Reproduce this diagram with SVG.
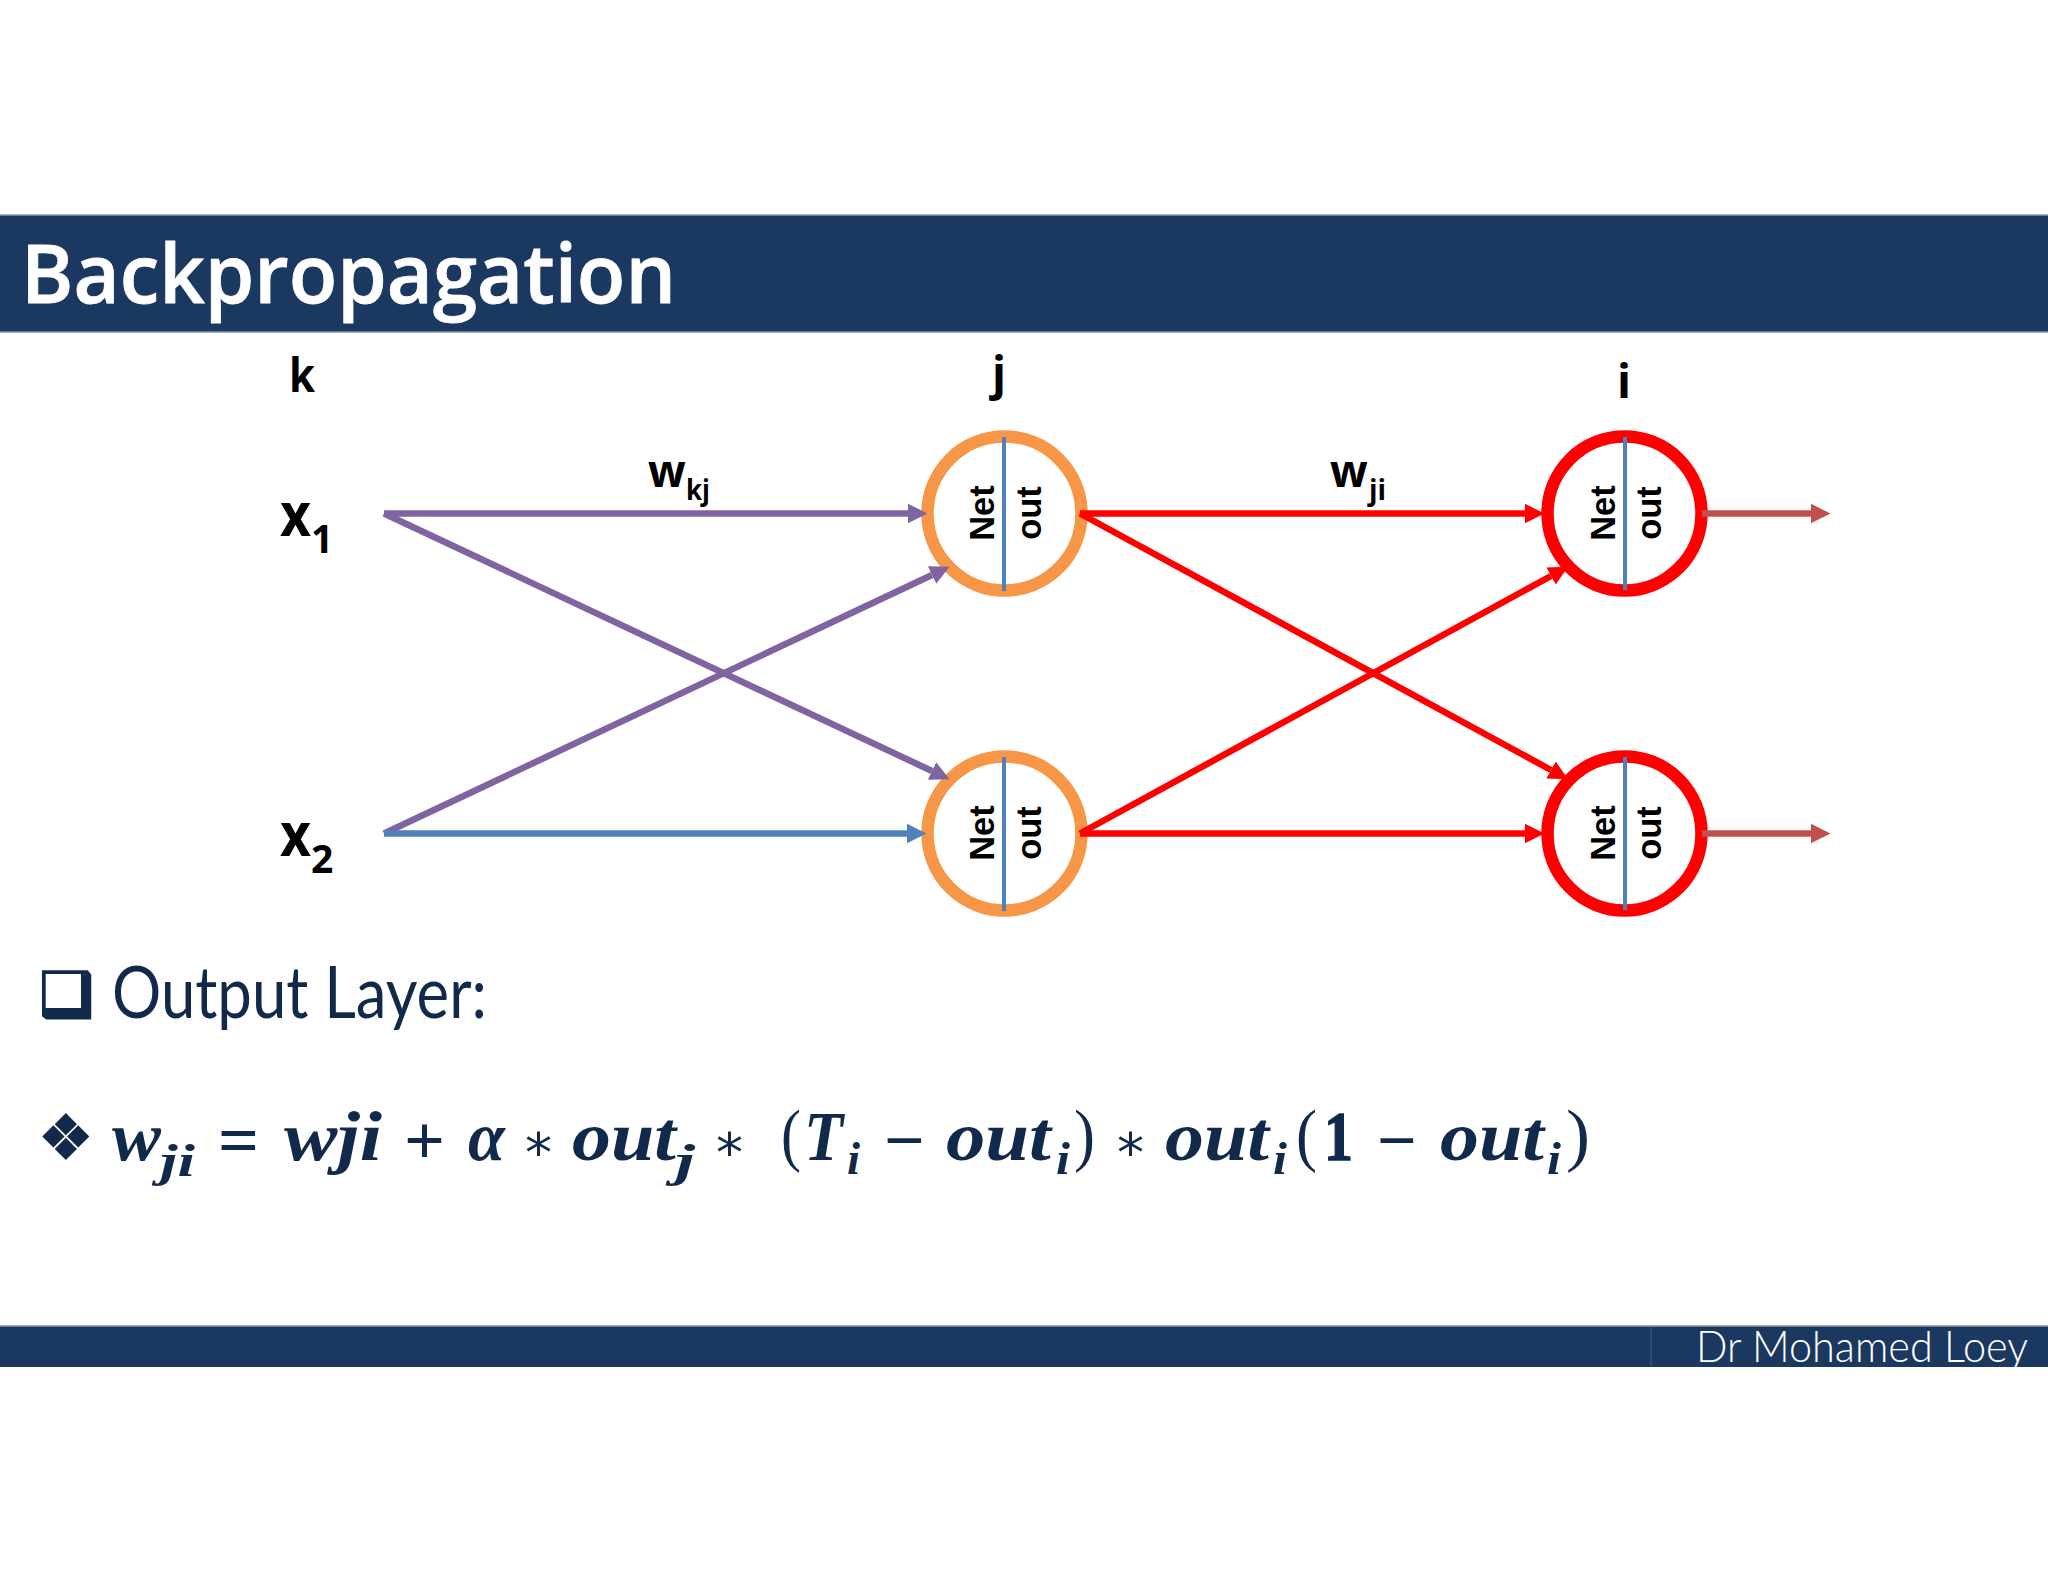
<svg xmlns="http://www.w3.org/2000/svg" width="2048" height="1582" viewBox="0 0 2048 1582">
<style>
.bar{fill:#1a3860}
.edge{stroke:#8496aa;stroke-width:1.5}
.lab{font-family:"Open Sans","Liberation Sans",sans-serif;font-weight:700;fill:#000}
.rot{font-family:"Liberation Sans",Arial,sans-serif;font-weight:700;font-size:34.5px;fill:#000;text-anchor:middle}
.ring{fill:#fff;stroke-width:12.5}
.hid{stroke:#f79646}.out{stroke:#ff0000}
.div{stroke:#4f81bd;stroke-width:4}
.c{fill:none;stroke-width:6.5}
.m{font-family:"Liberation Serif","Times New Roman",serif;font-weight:700;font-style:italic;font-size:70px;fill:#11294a}
.s{font-size:46px}
.u{font-style:normal}
.o{font-style:normal;font-weight:400}
.a{font-family:"DejaVu Sans",sans-serif;font-style:normal;font-weight:400;font-size:54px}
.fut{font-family:Lato,"Open Sans",sans-serif;fill:#11294a}
.dj{font-family:"DejaVu Sans",sans-serif;fill:#11294a;stroke:#11294a;stroke-width:1.2}
</style>
<defs>
<marker id="aP" markerWidth="3" markerHeight="3" refX="0" refY="1.5" orient="auto"><path d="M0,0L3,1.5L0,3z" fill="#8064a2"/></marker>
<marker id="aB" markerWidth="3" markerHeight="3" refX="0" refY="1.5" orient="auto"><path d="M0,0L3,1.5L0,3z" fill="#4f81bd"/></marker>
<marker id="aR" markerWidth="3" markerHeight="3" refX="0" refY="1.5" orient="auto"><path d="M0,0L3,1.5L0,3z" fill="#ff0000"/></marker>
<marker id="aD" markerWidth="3" markerHeight="3" refX="0" refY="1.5" orient="auto"><path d="M0,0L3,1.5L0,3z" fill="#c0504d"/></marker>
</defs>
<rect width="2048" height="1582" fill="#fff"/>
<g id="header">
<rect class="bar" x="0" y="215" width="2048" height="117"/>
<line class="edge" x1="0" y1="215" x2="2048" y2="215"/>
<line class="edge" x1="0" y1="332" x2="2048" y2="332"/>
<text x="21" y="303" font-family="Open Sans,sans-serif" font-weight="600" font-size="81" fill="#fff" stroke="#fff" stroke-width="0.8" textLength="655" lengthAdjust="spacingAndGlyphs">Backpropagation</text>
</g>
<g id="footer">
<rect class="bar" x="0" y="1326" width="2048" height="41"/>
<line class="edge" x1="0" y1="1326" x2="2048" y2="1326"/>
<line x1="1651" y1="1327" x2="1651" y2="1367" stroke="#2a4a72" stroke-width="2"/>
<text x="1696" y="1362" font-family="Lato,sans-serif" font-weight="300" font-size="43" fill="#fff" textLength="332" lengthAdjust="spacingAndGlyphs">Dr Mohamed Loey</text>
</g>
<g id="layer-labels">
<text class="lab" x="289" y="392" font-size="46" textLength="26" lengthAdjust="spacingAndGlyphs">k</text>
<text class="lab" x="992" y="390" font-size="46">j</text>
<text class="lab" x="1617" y="398" font-size="46">i</text>
</g>
<g id="node-x1"><text class="lab" x="280" y="536" font-size="60" textLength="31" lengthAdjust="spacingAndGlyphs">x</text><text class="lab" x="311" y="553" font-size="39">1</text></g>
<g id="node-x2"><text class="lab" x="280" y="856" font-size="60" textLength="31" lengthAdjust="spacingAndGlyphs">x</text><text class="lab" x="311" y="873" font-size="39">2</text></g>
<g id="label-wkj"><text class="lab" x="648" y="487" font-size="44">w</text><text class="lab" x="686" y="500" font-size="28" textLength="24" lengthAdjust="spacingAndGlyphs">kj</text></g>
<g id="label-wji"><text class="lab" x="1330" y="487" font-size="44">w</text><text class="lab" x="1369" y="500" font-size="28">ji</text></g>
<g id="node-j1"><circle class="ring hid" cx="1004.500" cy="513.500" r="77"/><line class="div" x1="1004" y1="437" x2="1004" y2="591"/><text class="rot" transform="translate(994 513) rotate(-90)">Net</text><text class="rot" transform="translate(1041 513) rotate(-90)">out</text></g>
<g id="node-j2"><circle class="ring hid" cx="1004.500" cy="833.500" r="77"/><line class="div" x1="1004" y1="757" x2="1004" y2="911"/><text class="rot" transform="translate(994 833) rotate(-90)">Net</text><text class="rot" transform="translate(1041 833) rotate(-90)">out</text></g>
<g id="node-i1"><circle class="ring out" cx="1624.500" cy="513.500" r="77"/><line class="div" x1="1625" y1="437" x2="1625" y2="590"/><text class="rot" transform="translate(1615 513) rotate(-90)">Net</text><text class="rot" transform="translate(1661 513) rotate(-90)">out</text></g>
<g id="node-i2"><circle class="ring out" cx="1624.500" cy="833.500" r="77"/><line class="div" x1="1625" y1="757" x2="1625" y2="910"/><text class="rot" transform="translate(1615 833) rotate(-90)">Net</text><text class="rot" transform="translate(1661 833) rotate(-90)">out</text></g>
<g id="connectors">
<line class="c" stroke="#8064a2" marker-end="url(#aP)" x1="384" y1="513.500" x2="908" y2="513.500"/>
<line class="c" stroke="#8064a2" marker-end="url(#aP)" x1="384" y1="513.500" x2="932" y2="771"/>
<line class="c" stroke="#8064a2" marker-end="url(#aP)" x1="384" y1="833.500" x2="932" y2="575"/>
<line class="c" stroke="#4f81bd" marker-end="url(#aB)" x1="384" y1="833.500" x2="907" y2="833.500"/>
<line class="c" stroke="#ff0000" marker-end="url(#aR)" x1="1080" y1="513.500" x2="1525" y2="513.500"/>
<line class="c" stroke="#ff0000" marker-end="url(#aR)" x1="1080" y1="513.500" x2="1551" y2="770"/>
<line class="c" stroke="#ff0000" marker-end="url(#aR)" x1="1080" y1="833.500" x2="1551" y2="576"/>
<line class="c" stroke="#ff0000" marker-end="url(#aR)" x1="1080" y1="833.500" x2="1525" y2="833.500"/>
<line class="c" stroke="#c0504d" marker-end="url(#aD)" x1="1702" y1="513.500" x2="1811" y2="513.500"/>
<line class="c" stroke="#c0504d" marker-end="url(#aD)" x1="1702" y1="833.500" x2="1811" y2="833.500"/>
</g>
<g id="heading">
<text class="dj" x="39" y="1016" font-size="62">❑</text>
<path d="M81,971L90,980V1018H48L42,1012V1008H81Z" fill="#11294a"/>
<text class="fut" x="112" y="1018" font-size="71" textLength="375" lengthAdjust="spacingAndGlyphs">Output Layer:</text>
</g>
<g id="equation">
<text class="dj" x="38" y="1159" font-size="62" stroke-width="0">❖</text>
<text class="m" x="112" y="1160" textLength="49" lengthAdjust="spacingAndGlyphs">w</text>
<text class="m s" x="160" y="1176" textLength="35" lengthAdjust="spacingAndGlyphs">ji</text>
<text class="m u" x="218" y="1164" textLength="41" lengthAdjust="spacingAndGlyphs">=</text>
<text class="m" x="284" y="1160" textLength="98" lengthAdjust="spacingAndGlyphs">wji</text>
<text class="m u" x="404" y="1164" textLength="41" lengthAdjust="spacingAndGlyphs">+</text>
<text class="m" x="468" y="1160" textLength="37" lengthAdjust="spacingAndGlyphs">α</text>
<text class="m a" x="525" y="1171">*</text>
<text class="m" x="572" y="1160" textLength="104" lengthAdjust="spacingAndGlyphs">out</text>
<text class="m s" x="675" y="1176" textLength="20" lengthAdjust="spacingAndGlyphs">j</text>
<text class="m a" x="716" y="1171">*</text>
<text class="m o" x="781" y="1158" textLength="20" lengthAdjust="spacingAndGlyphs">(</text>
<text class="m" x="804" y="1160" textLength="39" lengthAdjust="spacingAndGlyphs">T</text>
<text class="m s" x="847" y="1174" textLength="13" lengthAdjust="spacingAndGlyphs">i</text>
<text class="m u" x="884" y="1164" textLength="41" lengthAdjust="spacingAndGlyphs">−</text>
<text class="m" x="946" y="1160" textLength="105" lengthAdjust="spacingAndGlyphs">out</text>
<text class="m s" x="1056" y="1174" textLength="14" lengthAdjust="spacingAndGlyphs">i</text>
<text class="m o" x="1074" y="1158" textLength="21" lengthAdjust="spacingAndGlyphs">)</text>
<text class="m a" x="1117" y="1171">*</text>
<text class="m" x="1165" y="1160" textLength="104" lengthAdjust="spacingAndGlyphs">out</text>
<text class="m s" x="1273" y="1174" textLength="14" lengthAdjust="spacingAndGlyphs">i</text>
<text class="m o" x="1296" y="1158" textLength="21" lengthAdjust="spacingAndGlyphs">(</text>
<text class="m u" x="1324" y="1160" textLength="29" lengthAdjust="spacingAndGlyphs" stroke="#11294a" stroke-width="1.5">1</text>
<text class="m u" x="1377" y="1164" textLength="40" lengthAdjust="spacingAndGlyphs">−</text>
<text class="m" x="1440" y="1160" textLength="104" lengthAdjust="spacingAndGlyphs">out</text>
<text class="m s" x="1547" y="1174" textLength="14" lengthAdjust="spacingAndGlyphs">i</text>
<text class="m o" x="1566" y="1158" textLength="24" lengthAdjust="spacingAndGlyphs">)</text>
</g>
</svg>
